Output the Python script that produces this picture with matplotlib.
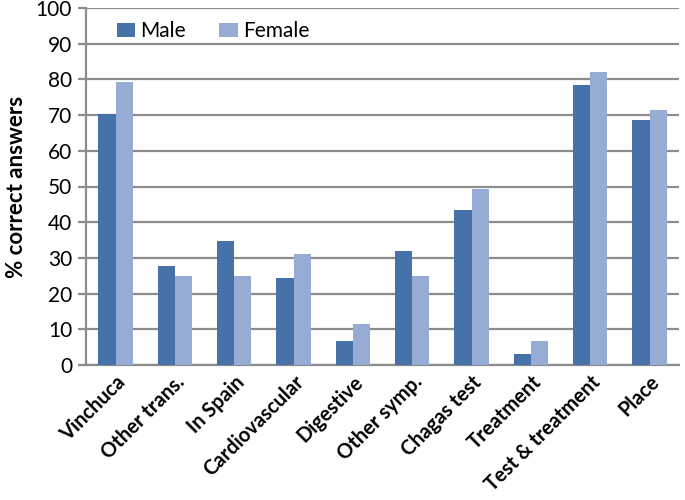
import matplotlib.pyplot as plt
import numpy as np

categories = ['Vinchuca', 'Other trans.', 'In Spain', 'Cardiovascular', 'Digestive',
              'Other symp.', 'Chagas test', 'Treatment', 'Test & treatment', 'Place']
male = [70.4, 27.6, 34.6, 24.5, 6.7, 32.0, 43.3, 3.0, 78.5, 68.5]
female = [79.2, 25.0, 25.0, 31.2, 11.5, 25.0, 49.2, 6.7, 82.0, 71.3]
yticks = list(range(0, 101, 10))

male_color = '#4672A9'
female_color = '#97ACD5'
grid_color = '#8C8C8C'

plt.rcParams['font.family'] = ['Lato', 'DejaVu Sans']

fig = plt.figure(figsize=(6.85, 5), dpi=100)
ax = fig.add_axes([0.1255, 0.27, 0.866, 0.714])

xs = np.arange(len(categories))
w = 0.29
ax.bar(xs - w / 2, male, width=w, color=male_color, label='Male', zorder=3)
ax.bar(xs + w / 2, female, width=w, color=female_color, label='Female', zorder=3)

ax.set_xlim(-0.5, len(categories) - 0.5)
ax.set_ylim(0, 100)
ax.set_yticks(yticks)
ax.yaxis.grid(True, color=grid_color, linewidth=1.6, zorder=0)
ax.set_axisbelow(True)

for s in ['top', 'right']:
    ax.spines[s].set_visible(False)
for s in ['left', 'bottom']:
    ax.spines[s].set_color(grid_color)
    ax.spines[s].set_linewidth(1.6)

ax.tick_params(axis='y', direction='out', length=6, width=1.6, color=grid_color,
               labelsize=15, pad=4)
ax.tick_params(axis='x', length=0, labelsize=14.5, pad=5)
ax.set_xticks(xs)
ax.set_xticklabels(categories, rotation=45, ha='right', rotation_mode='anchor',
                   fontweight='bold')
ax.set_ylabel('% correct answers', fontsize=16, fontweight='bold', labelpad=6)

ax.legend(loc='upper left', bbox_to_anchor=(0.02, 1.015), ncol=2, frameon=False,
          fontsize=15, handlelength=0.9, handleheight=0.6, handletextpad=0.25,
          columnspacing=1.6)

fig.savefig('out.png', dpi=100)
